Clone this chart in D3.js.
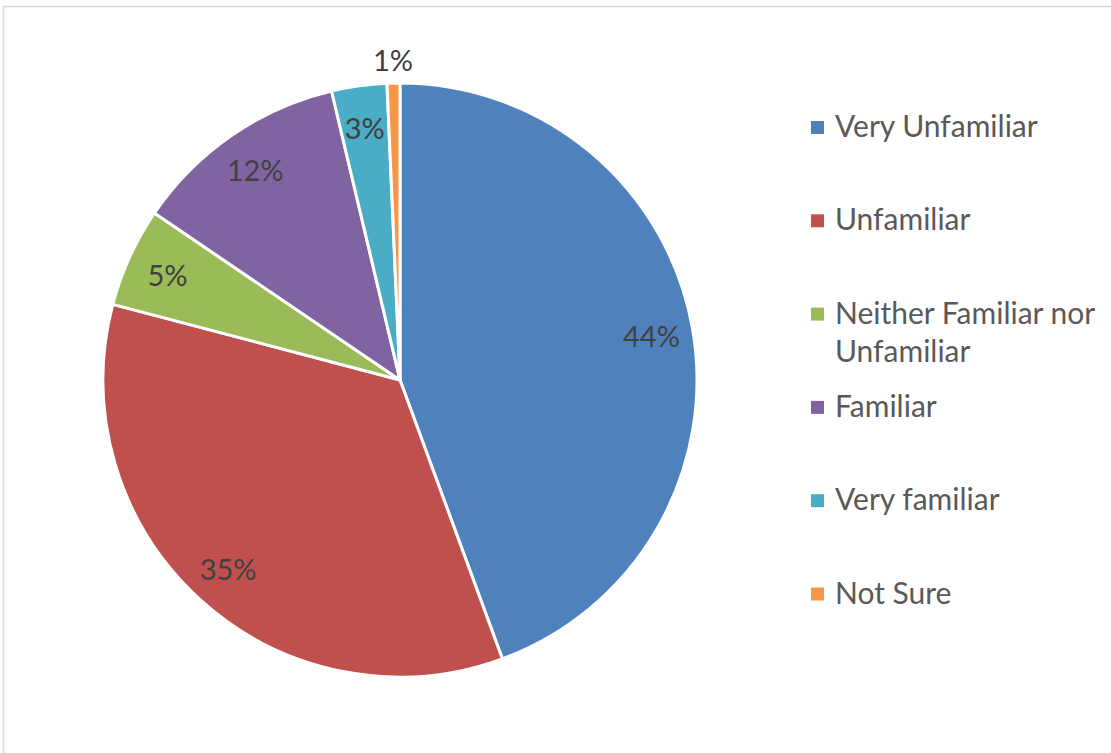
<!DOCTYPE html>
<html><head><meta charset="utf-8">
<script src="https://cdn.jsdelivr.net/npm/d3@7"></script>
<style>html,body{margin:0;padding:0;background:#fff;}svg{display:block;}</style>
</head><body>
<svg id="chart" width="1111" height="753"></svg>
<script>
const categories = ["Very Unfamiliar","Unfamiliar","Neither Familiar nor Unfamiliar","Familiar","Very familiar","Not Sure"];
const legendLines = [["Very Unfamiliar"],["Unfamiliar"],["Neither Familiar nor","Unfamiliar"],["Familiar"],["Very familiar"],["Not Sure"]];
const values = [44.4, 34.7, 5.4, 11.8, 3.0, 0.7];
const colors = ["#4F81BD","#C0504D","#9BBB59","#8064A2","#4BACC6","#F79646"];

const svg = d3.select("#chart");
const W = 1111, H = 753;
svg.append("rect").attr("x",3.5).attr("y",6.5).attr("width",W+10).attr("height",H+10)
  .attr("fill","#fff").attr("stroke","#d9d9d9").attr("stroke-width",1.5);

const cx = 400, cy = 380, R = 297;
const total = d3.sum(values);
const pie = d3.pie().sort(null).value(d=>d)(values);
const arc = d3.arc().innerRadius(0).outerRadius(R);
const g = svg.append("g").attr("transform",`translate(${cx},${cy})`);
g.selectAll("path").data(pie).join("path")
  .attr("d",arc).attr("fill",(d,i)=>colors[i])
  .attr("stroke","#fff").attr("stroke-width",3).attr("stroke-linejoin","round");

const font = "Lato, 'Open Sans', sans-serif";
g.selectAll("text.lbl").data(pie).join("text").attr("class","lbl")
  .each(function(d){
    const pct = d.data/total;
    const f = pct < 0.02 ? 1.08 : 0.86;
    const a = (d.startAngle + d.endAngle)/2;
    d3.select(this).attr("x", Math.sin(a)*R*f).attr("y", -Math.cos(a)*R*f);
  })
  .attr("text-anchor","middle").attr("dominant-baseline","central")
  .attr("font-family",font).attr("font-size",29).attr("fill","#404040")
  .text(d=>Math.round(d.data/total*100)+"%");

const lg = svg.append("g");
const y0 = 137, step = 93.3, lineH = 38;
legendLines.forEach((lines,i)=>{
  const by = y0 + i*step;
  lg.append("rect").attr("x",811).attr("y",by-16).attr("width",13).attr("height",13).attr("fill",colors[i]);
  const t = lg.append("text").attr("x",835).attr("y",by)
    .attr("font-family",font).attr("font-size",30).attr("fill","#595959");
  lines.forEach((ln,j)=>{
    t.append("tspan").attr("x",835).attr("y",by + j*lineH).text(ln);
  });
});
</script>
</body></html>
